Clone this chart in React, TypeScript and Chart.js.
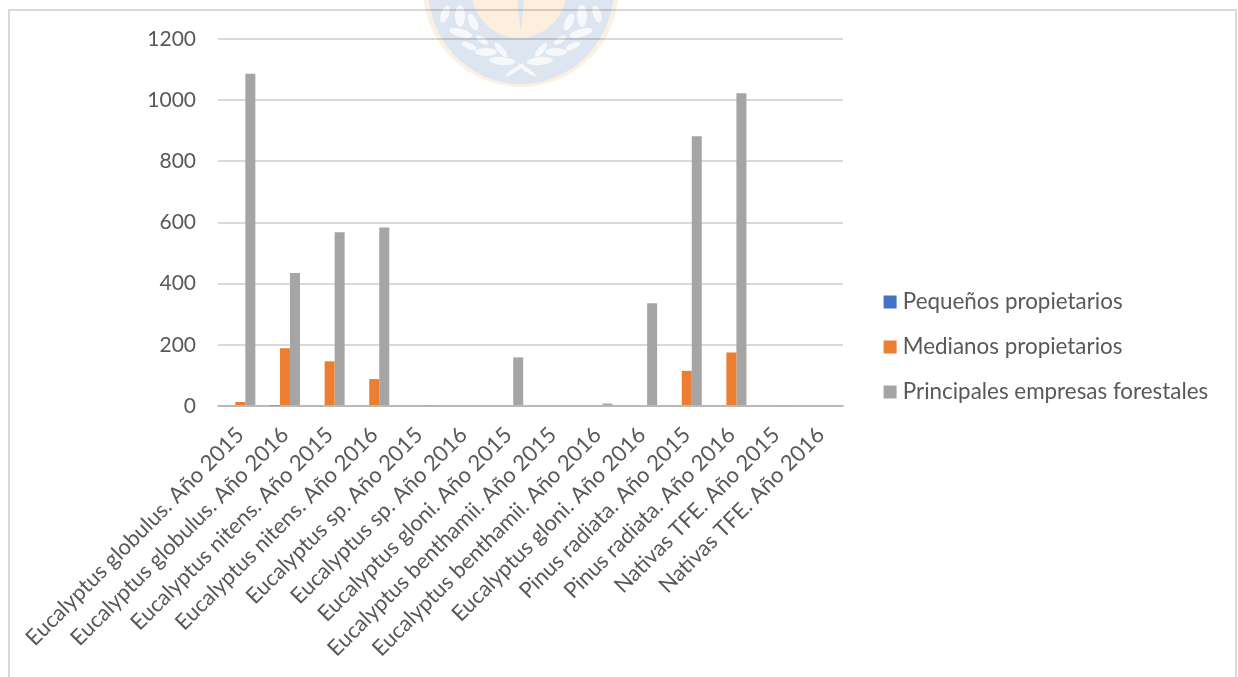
import React, { useEffect, useRef } from "react";
import { Chart, registerables } from "chart.js";

Chart.register(...registerables);

const categories = [
  "Eucalyptus globulus. Año 2015",
  "Eucalyptus globulus. Año 2016",
  "Eucalyptus nitens. Año 2015",
  "Eucalyptus nitens. Año 2016",
  "Eucalyptus sp. Año 2015",
  "Eucalyptus sp. Año 2016",
  "Eucalyptus gloni. Año 2015",
  "Eucalyptus benthamii. Año 2015",
  "Eucalyptus benthamii. Año 2016",
  "Eucalyptus gloni. Año 2016",
  "Pinus radiata. Año 2015",
  "Pinus radiata. Año 2016",
  "Nativas TFE. Año 2015",
  "Nativas TFE. Año 2016",
];
const pequenos = [0, 2, 0, 0, 0, 0, 0, 0, 0, 0, 0, 0, 0, 0];
const medianos = [13, 189, 146, 88, 0, 0, 0, 0, 0, 0, 115, 175, 0, 0];
const principales = [1086, 435, 568, 584, 1, 0, 159, 0, 8, 336, 882, 1023, 2, 0];

const FONT = "Lato, Carlito, sans-serif";
const TEXT = "#595959";
const LINE = "rgba(0,0,0,0.15)";

// Faint watermark behind the chart: [x offset from axis of the crest, y, rx, ry, angle in degrees]
const crestLeaves = [
  [-76, 14, 4, 9, 20],
  [-61, 16, 5, 11, 0],
  [-48, 22, 4, 9, -25],
  [-60, 33, 12, 4, 15],
  [-39, 40, 7, 3, 35],
  [-52, 46, 8, 3, 25],
  [-35, 52, 11, 4, 0],
  [-19, 61, 13, 4, 5],
  [-20, 50, 9, 3, 50],
  [-6, 70, 11, 2, -35],
  [76, 14, 4, 9, -20],
  [61, 16, 5, 11, 0],
  [48, 22, 4, 9, 25],
  [60, 33, 12, 4, -15],
  [39, 40, 7, 3, -35],
  [52, 46, 8, 3, -25],
  [35, 52, 11, 4, 0],
  [19, 61, 13, 4, -5],
  [20, 50, 9, 3, -50],
  [6, 70, 11, 2, 35],
];

const crest = {
  id: "crest",
  beforeDraw(chart: any) {
    const c = chart.ctx;
    const cx = 521;
    const cy = -12;
    c.save();
    c.fillStyle = "#FBF1E2";
    c.beginPath();
    c.ellipse(cx, cy, 98, 99, 0, 0, Math.PI * 2);
    c.fill();
    c.fillStyle = "#DDE5F0";
    c.beginPath();
    c.ellipse(cx, cy, 93, 96, 0, 0, Math.PI * 2);
    c.fill();
    c.fillStyle = "#FDEEDD";
    c.beginPath();
    c.ellipse(cx - 2, cy, 48, 50, 0, 0, Math.PI * 2);
    c.fill();
    c.fillStyle = "#DDE5F0";
    c.beginPath();
    c.moveTo(cx - 4, 0);
    c.lineTo(cx + 3, 0);
    c.lineTo(cx, 32);
    c.closePath();
    c.fill();
    c.fillStyle = "#F6F8FB";
    for (const [dx, y, rx, ry, a] of crestLeaves) {
      c.beginPath();
      c.ellipse(cx + dx, y, rx, ry, (a * Math.PI) / 180, 0, Math.PI * 2);
      c.fill();
    }
    c.restore();
  },
};

const placeBoxes = {
  id: "placeBoxes",
  afterLayout(chart: any) {
    const l = chart.legend;
    l.left = 866;
    l.right = 1238;
    chart.scales.x.bottom = 677;
  },
};

export default function App() {
  const ref = useRef<HTMLCanvasElement | null>(null);

  useEffect(() => {
    document.body.style.margin = "0";
    const chart = new Chart(ref.current as HTMLCanvasElement, {
      type: "bar",
      plugins: [crest, placeBoxes],
      data: {
        labels: categories,
        datasets: [
          { label: "Pequeños propietarios", data: pequenos, backgroundColor: "#4472C4" },
          { label: "Medianos propietarios", data: medianos, backgroundColor: "#ED7D31" },
          { label: "Principales empresas forestales", data: principales, backgroundColor: "#A5A5A5" },
        ],
      },
      options: {
        animation: false,
        responsive: false,
        devicePixelRatio: 1,
        layout: { padding: { left: 0, right: 114, top: 39, bottom: 22 } },
        datasets: { bar: { categoryPercentage: 0.673, barPercentage: 1 } },
        plugins: {
          title: { display: false },
          tooltip: { enabled: false },
          legend: {
            position: "right",
            align: "center",
            labels: {
              boxWidth: 3,
              boxHeight: 3,
              padding: 22.6,
              color: TEXT,
              font: { family: FONT, size: 22.4 },
              generateLabels(chart: any) {
                return Chart.defaults.plugins.legend.labels
                  .generateLabels(chart)
                  .map((item: any) => ({ ...item, strokeStyle: item.fillStyle, lineWidth: 10 }));
              },
            },
          },
        },
        scales: {
          x: {
            grid: { display: false },
            border: { color: LINE, width: 2 },
            ticks: {
              color: TEXT,
              font: { family: FONT, size: 22 },
              maxRotation: 45,
              minRotation: 45,
              autoSkip: false,
              padding: 8,
            },
            afterFit(s: any) {
              s.height = 677 - 22 - 406;
              s.paddingRight = 0;
              s.paddingLeft = 0;
            },
          },
          y: {
            min: 0,
            max: 1200,
            grid: { color: LINE, lineWidth: 2, drawTicks: false },
            border: { display: false },
            ticks: {
              stepSize: 200,
              color: TEXT,
              font: { family: FONT, size: 21 },
              padding: 22,
              callback: (v: any) => String(v),
            },
            afterFit(s: any) {
              s.width = 218;
              s.paddingTop = 0;
              s.paddingBottom = 0;
            },
          },
        },
      },
    } as any);
    return () => chart.destroy();
  }, []);

  return (
    <div style={{ position: "relative", width: 1238, height: 677, overflow: "hidden", background: "#fff" }}>
      <canvas ref={ref} width={1238} height={677} style={{ display: "block" }} />
      <div
        style={{
          position: "absolute",
          left: 8,
          top: 9,
          width: 1225,
          height: 700,
          border: `2px solid ${LINE}`,
          boxSizing: "content-box",
          pointerEvents: "none",
        }}
      />
    </div>
  );
}
